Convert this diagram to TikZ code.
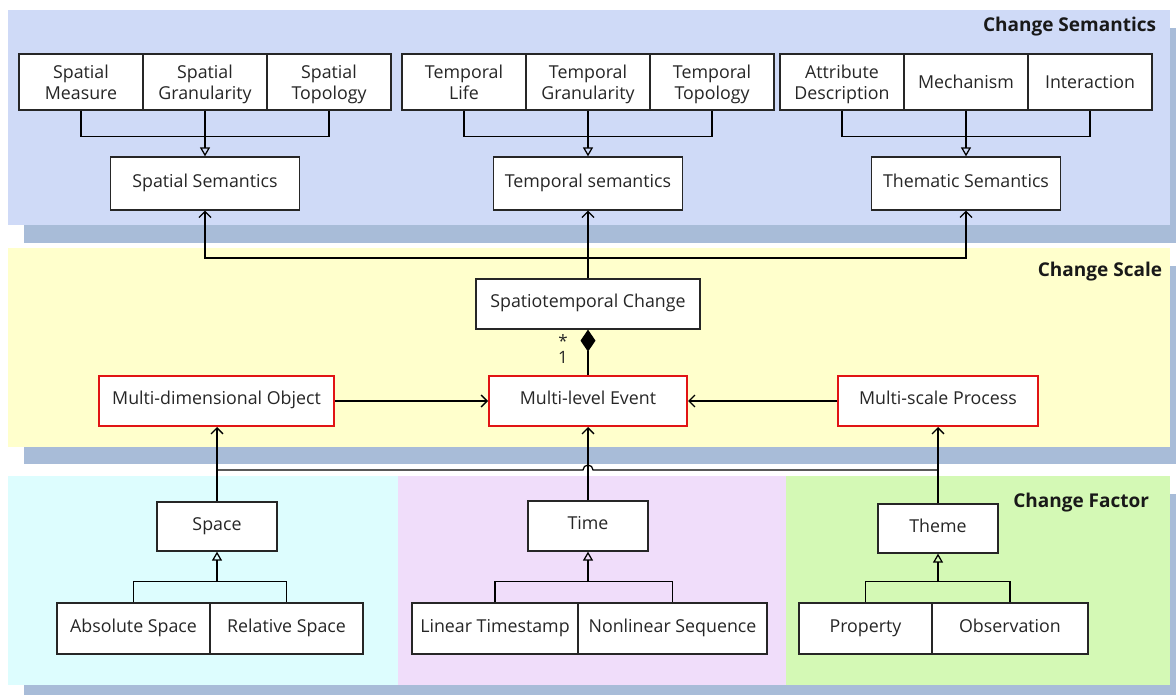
\documentclass[tikz,border=0pt]{standalone}
\usepackage{fontspec}
\setmainfont{Open Sans}
\usetikzlibrary{arrows.meta,positioning}
\definecolor{semblue}{RGB}{207,218,247}
\definecolor{panelshade}{RGB}{168,188,216}
\definecolor{scaleyel}{RGB}{255,255,204}
\definecolor{spcyan}{RGB}{221,253,254}
\definecolor{tmpurple}{RGB}{240,221,250}
\definecolor{thgreen}{RGB}{212,249,181}
\definecolor{boxred}{RGB}{225,20,20}
\tikzset{box/.style={draw=black!85,fill=white,align=center,inner sep=0pt,text=black!85},one/.style={box,text height=0.76em,text depth=0.04em},cell/.style={box,text depth=0pt,minimum width=124,minimum height=56},sem/.style={one,minimum width=189,minimum height=53},redbox/.style={one,draw=boxred,line width=2pt,minimum height=50},gen/.style={-{Triangle[open,length=9pt,width=10pt]}},arr/.style={-{Straight Barb[length=6pt,width=12pt]}},title/.style={anchor=east,font=\bfseries\fontsize{19}{22}\selectfont,text=black!90}}
\begin{document}
\begin{tikzpicture}[x=1pt,y=1pt,font=\fontsize{17.8}{20.5}\selectfont,line width=1.25pt]
\useasboundingbox(0,0)rectangle(1176,-695);
% panels
\fill[panelshade](24,-28)rectangle(1176,-243);
\fill[semblue](8,-10)rectangle(1170,-225);
\fill[panelshade](24,-266)rectangle(1176,-464);
\fill[scaleyel](8,-248)rectangle(1170,-447);
\fill[panelshade](24,-494)rectangle(1176,-695);
\fill[spcyan](8,-476)rectangle(398,-685);
\fill[tmpurple](398,-476)rectangle(786,-685);
\fill[thgreen](786,-476)rectangle(1170,-685);
\node[title](tsem)at(1160,-27){Change Semantics};
\node[title](tscl)at(1166,-272){Change Scale};
\node[title](tfac)at(1153,-503){Change Factor};
% change semantics
\node[cell](sm)at(81,-82){Spatial\\Measure};
\node[cell](sg)at(205,-82){Spatial\\Granularity};
\node[cell](st)at(329,-82){Spatial\\Topology};
\node[cell](tl)at(464,-82){Temporal\\Life};
\node[cell](tg)at(588,-82){Temporal\\Granularity};
\node[cell](tt)at(712,-82){Temporal\\Topology};
\node[cell](ad)at(842,-82){Attribute\\Description};
\node[cell](me)at(966,-82){Mechanism};
\node[cell](ia)at(1090,-82){Interaction};
\node[sem](ss)at(205,-183.5){Spatial Semantics};
\node[sem](ts)at(588,-183.5){Temporal semantics};
\node[sem](ths)at(966,-183.5){Thematic Semantics};
\foreach\a/\b/\c/\p in{sm/st/sg/ss,tl/tt/tg/ts,ad/ia/me/ths}{\draw(\a.south)--++(0,-26)-|(\b.south);\draw[gen](\c.south)--(\p.north);}
% change scale
\node[one,minimum width=224,minimum height=50](stc)at(588,-304){Spatiotemporal Change};
\node[redbox,minimum width=198](mle)at(588,-401){Multi-level Event};
\node[redbox,minimum width=235](mo)at(216.5,-401){Multi-dimensional Object};
\node[redbox,minimum width=200](mp)at(938,-401){Multi-scale Process};
\coordinate(jn)at(588,-258);
\draw[arr](stc)--(ts);
\draw[arr](jn)-|(ss);
\draw[arr](jn)-|(ths);
\draw[-{Diamond[length=22pt,width=15pt]}](mle)--(stc);
\node[text=black!85,inner sep=0pt,align=center,font=\fontsize{17}{16}\selectfont](card)at(563,-349){*\\1};
\draw[arr](mo)--(mle);
\draw[arr](mp)--(mle);
% change factor
\node[one,minimum width=120,minimum height=49](sp)at(217,-526.5){Space};
\node[one,minimum width=120,minimum height=50](ti)at(588,-526){Time};
\node[one,minimum width=120,minimum height=49](th)at(938,-528.5){Theme};
\node[one,minimum width=153,minimum height=51](as)at(133.5,-628.5){Absolute Space};
\node[one,minimum width=153,minimum height=51](rs)at(286.5,-628.5){Relative Space};
\node[one,minimum width=166,minimum height=51](lt)at(495,-628.5){Linear Timestamp};
\node[one,minimum width=189,minimum height=51](ns)at(672.5,-628.5){Nonlinear Sequence};
\node[one,minimum width=133,minimum height=51](pr)at(865.5,-628.5){Property};
\node[one,minimum width=156,minimum height=51](ob)at(1010,-628.5){Observation};
\foreach\a/\b/\p in{as/rs/sp,lt/ns/ti,pr/ob/th}{\draw(\a.north)--++(0,21)-|(\b.north);\draw[gen](\p.south|-0,-582)--(\p.south);}
\draw[arr](sp.north)--(sp.north|-mo.south);
\draw[arr](ti)--(mle);
\draw[arr](th)--(mp);
\draw(sp.north|-0,-470)--(583,-470)arc[start angle=180,end angle=0,radius=5]--(th.north|-0,-470);
\end{tikzpicture}
\end{document}
